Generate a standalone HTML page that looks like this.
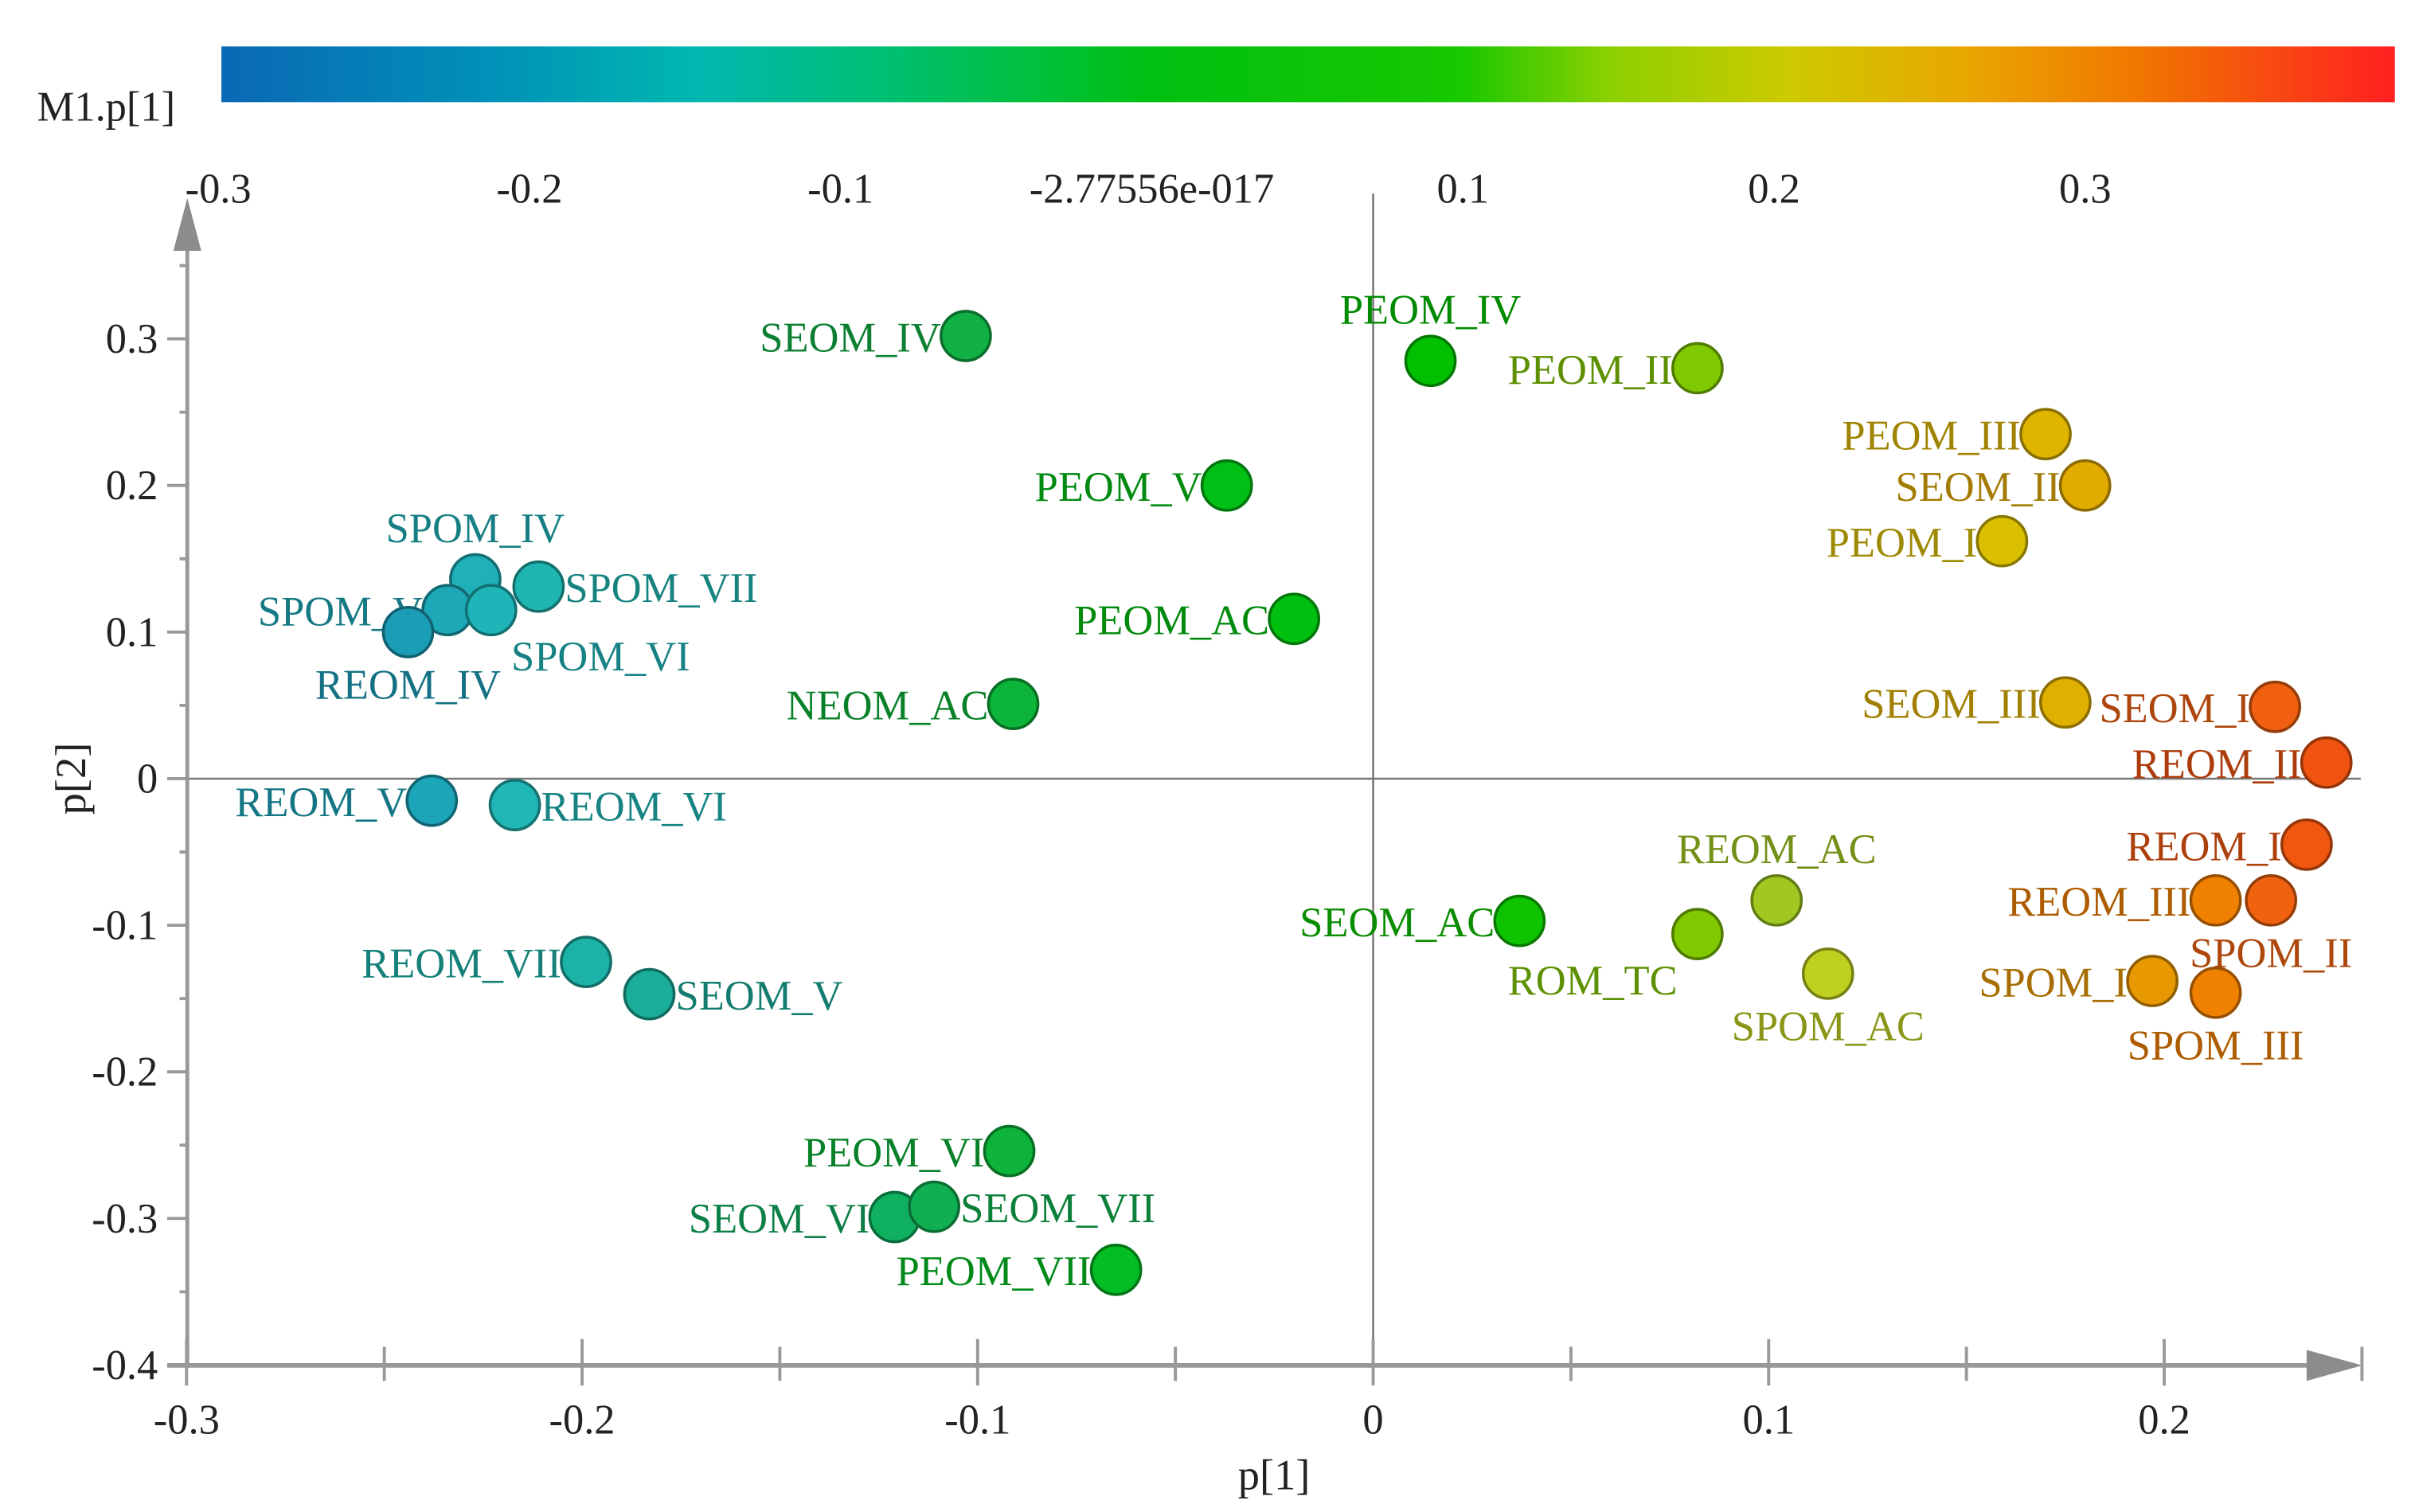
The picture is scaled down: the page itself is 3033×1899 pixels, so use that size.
<!DOCTYPE html>
<html><head><meta charset="utf-8"><style>
html,body{margin:0;padding:0;background:#fff;}
svg{display:block;}
text{font-family:"Liberation Serif",serif;}
</style></head><body>
<svg id="chart" width="3033" height="1899" viewBox="0 0 1560 976.7" preserveAspectRatio="none" xmlns="http://www.w3.org/2000/svg">
<defs>
<linearGradient id="cbar" x1="0" x2="1" y1="0" y2="0">
<stop offset="0" stop-color="#0a68b4"/>
<stop offset="0.12" stop-color="#0090b8"/>
<stop offset="0.22" stop-color="#00b8b0"/>
<stop offset="0.33" stop-color="#00c060"/>
<stop offset="0.43" stop-color="#00c010"/>
<stop offset="0.57" stop-color="#18c800"/>
<stop offset="0.64" stop-color="#8ed000"/>
<stop offset="0.72" stop-color="#ccca00"/>
<stop offset="0.80" stop-color="#e8a800"/>
<stop offset="0.88" stop-color="#f07800"/>
<stop offset="1" stop-color="#ff2020"/>
</linearGradient>
</defs>
<rect x="143" y="30" width="1404" height="36" fill="url(#cbar)"/>
<text x="24" y="78" font-size="27" fill="#222">M1.p[1]</text>
<g id="cticks"></g>
<g id="axes"></g>
<g id="points"></g>
</svg>
<script>
const cbTicks = [-0.3,-0.2,-0.1,0,0.1,0.2,0.3];
const cbTickLabels = ["-0.3","-0.2","-0.1","-2.77556e-017","0.1","0.2","0.3"];
const xTicks = [-0.3,-0.2,-0.1,0,0.1,0.2];
const xTickLabels = ["-0.3","-0.2","-0.1","0","0.1","0.2"];
const yTicks = [0.3,0.2,0.1,0,-0.1,-0.2,-0.3,-0.4];
const yTickLabels = ["0.3","0.2","0.1","0","-0.1","-0.2","-0.3","-0.4"];
const names = ["SEOM_IV","PEOM_IV","PEOM_II","PEOM_III","SEOM_II","PEOM_I","PEOM_V","PEOM_AC","NEOM_AC","SPOM_IV","SPOM_VII","SPOM_V","SPOM_VI","REOM_IV","REOM_V","REOM_VI","REOM_VII","SEOM_V","PEOM_VI","SEOM_VI","SEOM_VII","PEOM_VII","SEOM_AC","ROM_TC","REOM_AC","SPOM_AC","SEOM_III","SEOM_I","REOM_II","REOM_I","REOM_III","SPOM_II","SPOM_I","SPOM_III"];
const p1 = [-0.103,0.0145,0.082,0.170,0.180,0.159,-0.037,-0.020,-0.091,-0.227,-0.211,-0.234,-0.223,-0.244,-0.238,-0.217,-0.199,-0.183,-0.092,-0.121,-0.111,-0.065,0.037,0.082,0.102,0.115,0.175,0.228,0.241,0.236,0.213,0.227,0.197,0.213];
const p2 = [0.302,0.285,0.280,0.235,0.200,0.162,0.200,0.109,0.051,0.136,0.131,0.115,0.115,0.100,-0.015,-0.018,-0.125,-0.147,-0.254,-0.299,-0.292,-0.335,-0.097,-0.106,-0.083,-0.133,0.052,0.049,0.011,-0.045,-0.083,-0.083,-0.138,-0.146];
// label placement: L=left of point, R=right, A=above, B=below, S=below-right, T=below-left
const labelPos = ["L","A","L","L","L","L","L","L","L","A","R","L","S","B","L","R","L","R","L","L","R","L","L","T","A","B","L","L","L","L","L","B","L","B"];

const NS="http://www.w3.org/2000/svg";
function el(tag, attrs, parent){const e=document.createElementNS(NS,tag);for(const k in attrs)e.setAttribute(k,attrs[k]);parent.appendChild(e);return e;}
const X = v => 887 + v*2555;
const Y = v => 503 - v*947;
const CX = v => 141 + (v+0.3)*2010;

const ct=document.getElementById('cticks');
cbTicks.forEach((v,i)=>{
  const t=el('text',{x:CX(v),y:131,'font-size':27,'text-anchor':'middle',fill:'#222'},ct);
  t.textContent=cbTickLabels[i];
  
  
});

const ax=document.getElementById('axes');
let zl=el('line',{x1:121,x2:1525,y1:Y(0),y2:Y(0),stroke:'#777','stroke-width':1.3},ax);


zl=el('line',{x1:X(0),x2:X(0),y1:125,y2:882,stroke:'#777','stroke-width':1.3},ax);


let a=el('line',{x1:121,x2:121,y1:155,y2:882,stroke:'#999','stroke-width':2.5},ax);


a=el('polygon',{points:'112,162 130,162 121,128',fill:'#8c8c8c'},ax);


a=el('line',{x1:108,x2:1495,y1:882,y2:882,stroke:'#999','stroke-width':3},ax);


a=el('polygon',{points:'1490,872 1490,892 1526,882',fill:'#8c8c8c'},ax);


for(let k=-8;k<=7;k++){const v=k*0.05;const maj=(k%2===0);
  el('line',{x1:maj?108:116,x2:121,y1:Y(v),y2:Y(v),stroke:'#999','stroke-width':2},ax);}
yTicks.forEach((v,i)=>{
  const t=el('text',{x:102,y:Y(v)+9,'font-size':27,'text-anchor':'end',fill:'#222'},ax);
  t.textContent=yTickLabels[i];
  
  
});
for(let k=-6;k<=5;k++){const v=k*0.05;const maj=(k%2===0);
  el('line',{x1:X(v),x2:X(v),y1:maj?865:870,y2:maj?895:892,stroke:'#999','stroke-width':2},ax);}
xTicks.forEach((v,i)=>{
  const t=el('text',{x:X(v),y:926,'font-size':27,'text-anchor':'middle',fill:'#222'},ax);
  t.textContent=xTickLabels[i];
  
  
});
let tt=el('text',{x:823,y:962,'font-size':28,'text-anchor':'middle',fill:'#222'},ax);
tt.textContent='p[1]';


tt=el('text',{x:0,y:0,'font-size':28,'text-anchor':'middle',fill:'#222',transform:'translate(55,503) rotate(-90)'},ax);
tt.textContent='p[2]';



const stops=[[-0.25,[26,150,184]],[-0.22,[32,184,184]],[-0.18,[26,172,152]],[-0.12,[16,176,96]],[-0.1,[16,176,64]],[-0.06,[0,192,32]],[0.015,[0,192,0]],[0.04,[16,196,0]],[0.082,[128,200,0]],[0.102,[160,200,32]],[0.115,[192,208,32]],[0.16,[220,192,0]],[0.175,[224,176,0]],[0.197,[232,152,0]],[0.213,[240,128,0]],[0.228,[240,96,16]],[0.245,[240,80,16]]];
function col(v,f){let c=stops[0][1];
  if(v>=stops[stops.length-1][0])c=stops[stops.length-1][1];
  else for(let i=0;i<stops.length-1;i++){if(v>=stops[i][0]&&v<=stops[i+1][0]){const t=(v-stops[i][0])/(stops[i+1][0]-stops[i][0]);c=stops[i][1].map((q,j)=>q+(stops[i+1][1][j]-q)*t);break;}}
  return 'rgb('+c.map(q=>Math.round(q*f)).join(',')+')';}

const pg=document.getElementById('points');
names.forEach((n,i)=>{
  const cx=X(p1[i]),cy=Y(p2[i]);
  const c=el('circle',{cx:cx,cy:cy,r:16,fill:col(p1[i],1),stroke:col(p1[i],0.62),'stroke-width':1.8},pg);
  
  
  const pos=labelPos[i];let dx=-16,dy=10,anc='end';
  if(pos==='R'){dx=17;anc='start';}
  if(pos==='A'){dx=0;dy=-24;anc='middle';}
  if(pos==='B'){dx=0;dy=43;anc='middle';}
  if(pos==='S'){dx=13;dy=39;anc='start';}
  if(pos==='T'){dx=-13;dy=39;anc='end';}
  const t=el('text',{x:cx+dx,y:cy+dy,'font-size':27,'text-anchor':anc,fill:col(p1[i],0.72)},pg);
  t.textContent=n;
  
  
});
</script>
</body></html>
